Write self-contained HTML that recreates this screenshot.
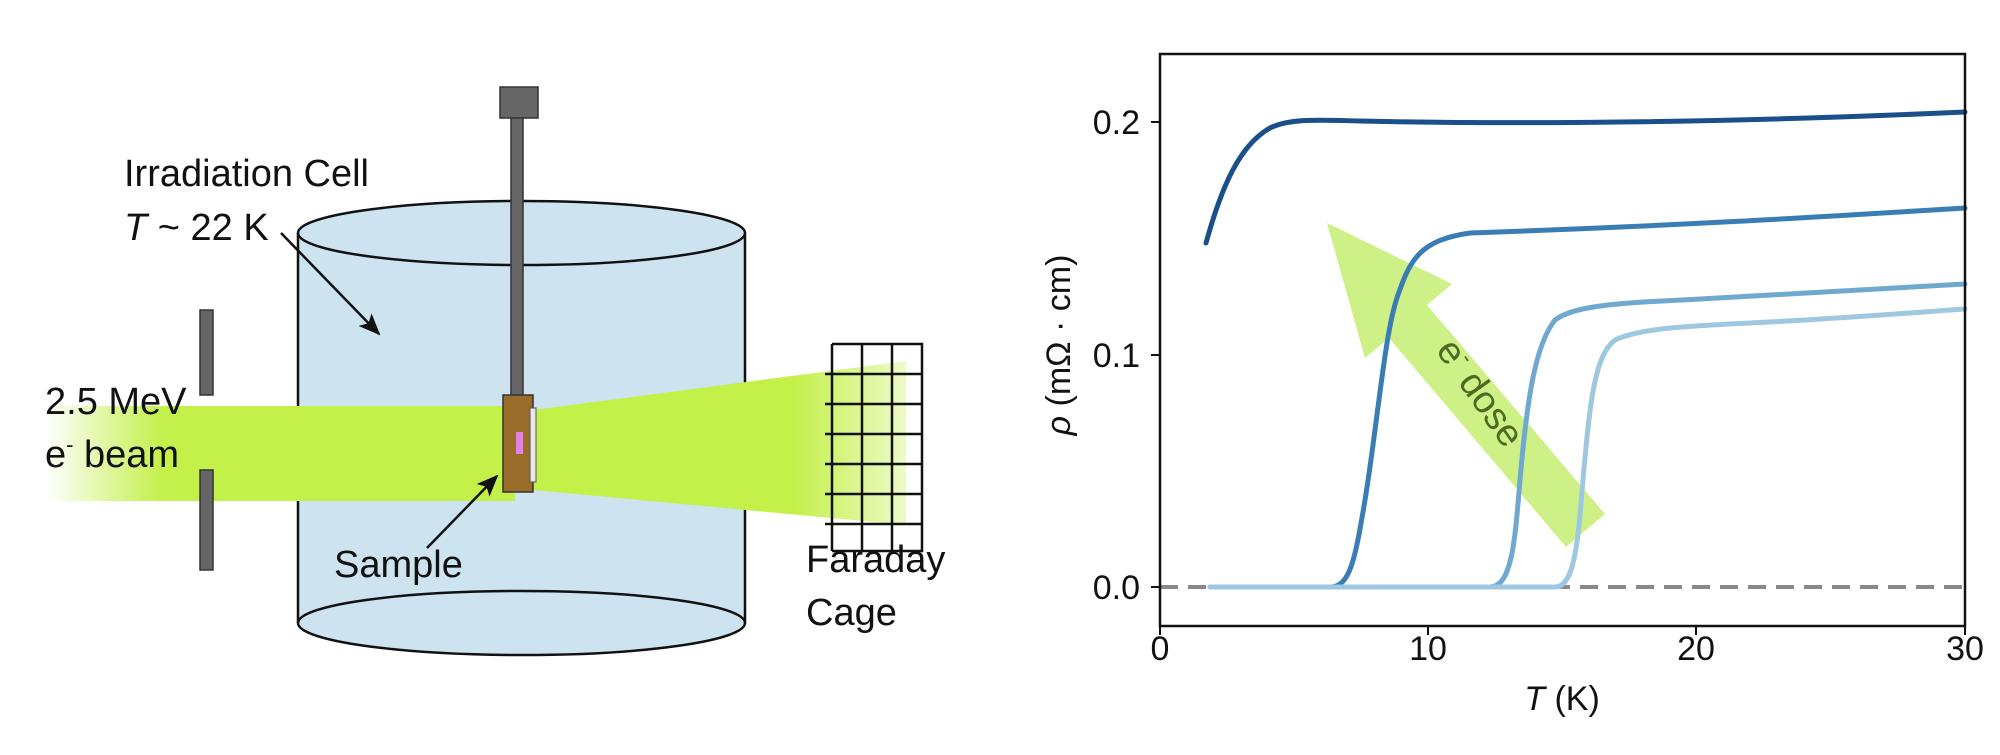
<!DOCTYPE html>
<html><head><meta charset="utf-8"><style>
html,body{margin:0;padding:0;background:#fff;}
svg{display:block;font-family:"Liberation Sans",sans-serif;}
</style></head><body>
<svg width="2000" height="755" viewBox="0 0 2000 755" xmlns="http://www.w3.org/2000/svg">
<defs>
<linearGradient id="bl" x1="0" x2="1" y1="0" y2="0">
<stop offset="0" stop-color="#c4f04a" stop-opacity="0"/>
<stop offset="0.25" stop-color="#c4f04a" stop-opacity="1"/>
<stop offset="1" stop-color="#c4f04a"/>
</linearGradient>
<linearGradient id="br" x1="0" x2="1" y1="0" y2="0">
<stop offset="0" stop-color="#c4f04a"/>
<stop offset="0.7" stop-color="#c4f04a"/>
<stop offset="1" stop-color="#c4f04a" stop-opacity="0.3"/>
</linearGradient>
<marker id="ah" markerWidth="22" markerHeight="18" refX="20" refY="9" orient="auto" markerUnits="userSpaceOnUse">
<path d="M0,0 L22,9 L0,18 L5,9 Z" fill="#111"/>
</marker>
</defs>
<!-- cylinder -->
<rect x="298" y="233" width="447" height="392" fill="#cde3f0"/>
<path d="M298,233 V623 M745,233 V623" stroke="#111" stroke-width="2.5"/>
<ellipse cx="521.5" cy="623" rx="223.5" ry="32" fill="#cde3f0" stroke="#111" stroke-width="2.5"/>
<ellipse cx="521.5" cy="233" rx="223.5" ry="32" fill="#cde3f0" stroke="#111" stroke-width="2.5"/>
<!-- beam -->
<rect x="45" y="406" width="470" height="95" fill="url(#bl)"/>
<polygon points="533,410 906,361 906,525 533,490" fill="url(#br)"/>
<!-- slits -->
<rect x="200" y="310" width="13" height="85" fill="#666" stroke="#333" stroke-width="1.5"/>
<rect x="200" y="470" width="13" height="100" fill="#666" stroke="#333" stroke-width="1.5"/>
<!-- rod -->
<rect x="500" y="87" width="38" height="31" fill="#666" stroke="#333" stroke-width="1.5"/>
<rect x="511" y="118" width="12" height="278" fill="#666" stroke="#333" stroke-width="1.5"/>
<rect x="503" y="395" width="30" height="97" fill="#9a6c2a" stroke="#333" stroke-width="1.5"/>
<rect x="530" y="408" width="6" height="74" fill="#e8e8e8" stroke="#555" stroke-width="1"/>
<rect x="516" y="432" width="7" height="22" fill="#e080e8"/>
<!-- faraday -->
<g stroke="#111" stroke-width="2.5" fill="none">
<path d="M832,344 H922 V551 H832"/>
<path d="M832,344 V551 M862,344 V551 M892,344 V551"/>
<path d="M825,374 H922 M825,404 H922 M825,434 H922 M825,464 H922 M825,494 H922 M825,524 H922"/>
</g>
<!-- labels -->
<g font-size="38" fill="#111">
<text x="124" y="186">Irradiation Cell</text>
<text x="124" y="240"><tspan font-style="italic">T</tspan> ~ 22 K</text>
<text x="45" y="414">2.5 MeV</text>
<text x="45" y="467">e<tspan font-size="22" dy="-15">-</tspan><tspan dy="15"> beam</tspan></text>
<text x="334" y="577">Sample</text>
<text x="806" y="572">Faraday</text>
<text x="806" y="625">Cage</text>
</g>
<line x1="281" y1="233" x2="379" y2="334" stroke="#111" stroke-width="2.5" marker-end="url(#ah)"/>
<line x1="427" y1="548" x2="497" y2="476" stroke="#111" stroke-width="2.5" marker-end="url(#ah)"/>

<!-- plot -->
<polygon points="1327,223 1452,284 1427,305 1605,514 1566,547 1389,338 1365,358" fill="#c8f07a" opacity="0.9"/>
<text transform="translate(1470,400) rotate(55)" font-size="38" fill="#4a6b20" text-anchor="middle">e<tspan font-size="22" dy="-15">-</tspan><tspan dy="15"> dose</tspan></text>
<line x1="1160" y1="587" x2="1965" y2="587" stroke="#888" stroke-width="4" stroke-dasharray="18,10"/>
<g fill="none" stroke-width="5" stroke-linecap="round">
<path d="M1206,243 C1222,185 1240,145 1270,128 C1290,118 1320,120 1360,121 C1500,124 1700,124 1965,112" stroke="#1a4f8a"/>
<path d="M1267,587 L1330,587 C1350,587 1355,560 1365,500 C1378,420 1385,330 1398,295 C1410,260 1420,240 1470,233 C1700,225 1850,215 1965,208" stroke="#3a7db5"/>
<path d="M1210,587 L1490,587 C1512,587 1515,540 1520,480 C1527,400 1535,345 1555,320 C1575,305 1620,303 1700,299 C1800,294 1900,288 1965,284" stroke="#6fa8d0"/>
<path d="M1210,587 L1555,587 C1575,587 1578,540 1583,480 C1590,400 1595,355 1615,340 C1640,328 1690,326 1750,323 C1850,318 1920,312 1965,309" stroke="#9ec8e0"/>
</g>
<rect x="1160" y="54" width="805" height="572" fill="none" stroke="#111" stroke-width="2.5"/>
<g stroke="#111" stroke-width="2">
<line x1="1151" y1="587" x2="1160" y2="587"/><line x1="1151" y1="355" x2="1160" y2="355"/><line x1="1151" y1="122" x2="1160" y2="122"/>
<line x1="1160" y1="626" x2="1160" y2="635"/><line x1="1428" y1="626" x2="1428" y2="635"/><line x1="1696" y1="626" x2="1696" y2="635"/><line x1="1965" y1="626" x2="1965" y2="635"/>
</g>
<g font-size="34" fill="#111">
<text x="1140" y="599" text-anchor="end">0.0</text>
<text x="1140" y="367" text-anchor="end">0.1</text>
<text x="1140" y="134" text-anchor="end">0.2</text>
<text x="1160" y="660" text-anchor="middle">0</text>
<text x="1428" y="660" text-anchor="middle">10</text>
<text x="1696" y="660" text-anchor="middle">20</text>
<text x="1965" y="660" text-anchor="middle">30</text>
<text x="1562" y="710" text-anchor="middle"><tspan font-style="italic">T</tspan> (K)</text>
<text transform="translate(1070,345) rotate(-90)" text-anchor="middle"><tspan font-style="italic">ρ</tspan> (mΩ · cm)</text>
</g>
</svg>
</body></html>
